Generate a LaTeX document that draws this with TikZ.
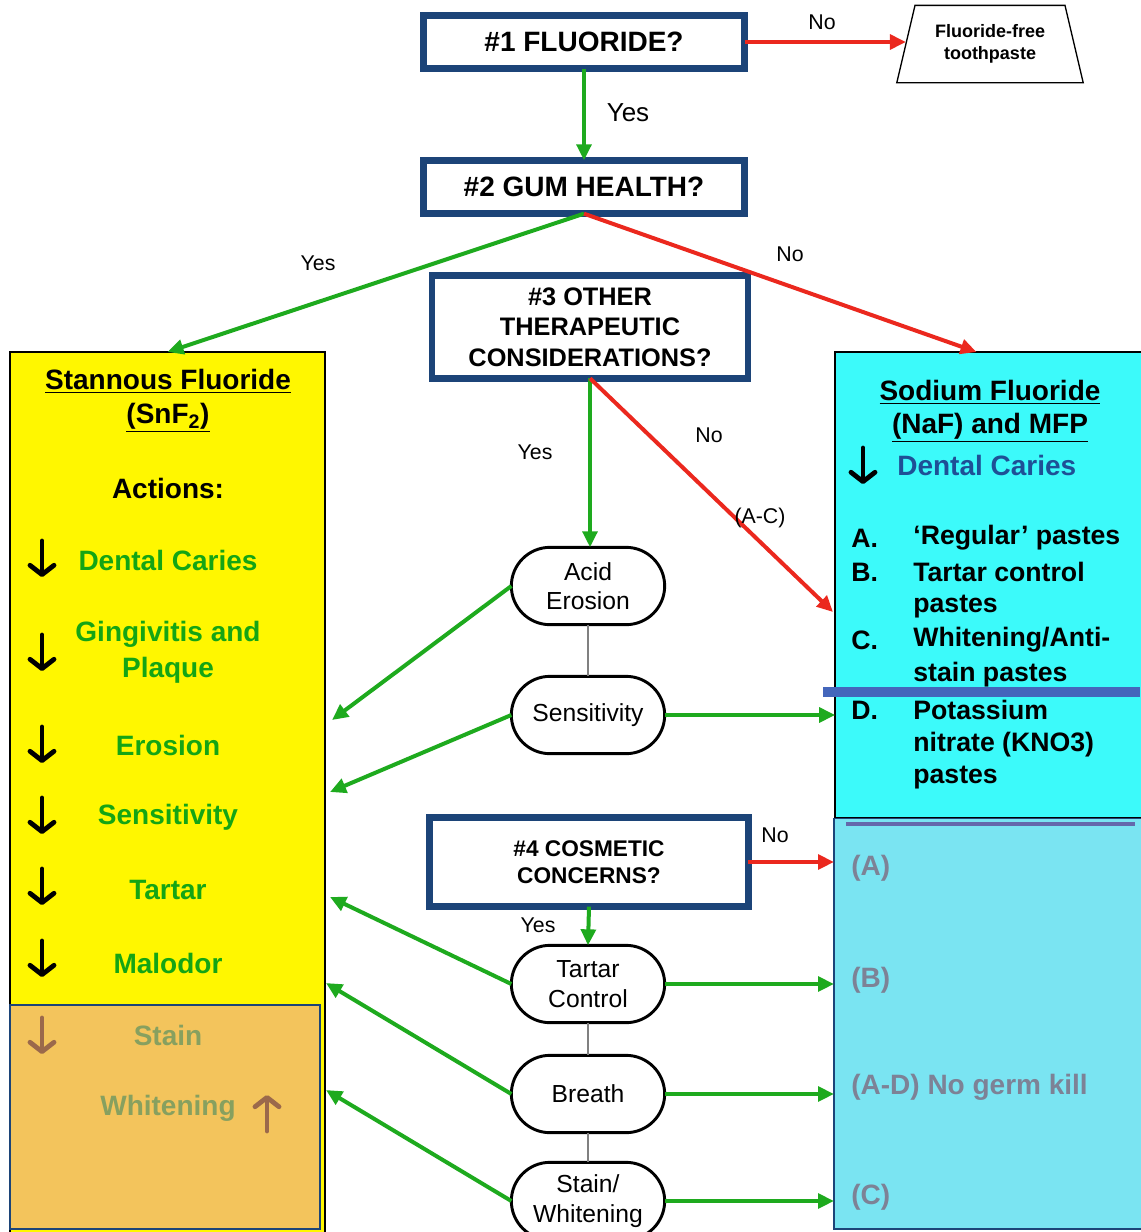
\documentclass[tikz,border=0pt]{standalone}
\usepackage{fontspec}
\setmainfont{Liberation Sans}
\usetikzlibrary{
    arrows.meta,
    positioning,
    shapes.geometric,
    shapes.misc
}
\definecolor{navy}{RGB}{28,68,120}
\definecolor{okgreen}{RGB}{30,170,30}
\definecolor{nored}{RGB}{235,40,30}
\definecolor{snfyellow}{RGB}{255,247,0}
\definecolor{snforange}{RGB}{243,196,92}
\definecolor{nafcyan}{RGB}{60,250,250}
\definecolor{naflight}{RGB}{122,228,242}
\definecolor{itemgreen}{RGB}{20,165,20}
\definecolor{fadegreen}{RGB}{135,160,95}
\definecolor{brownarr}{RGB}{155,105,75}
\definecolor{cariesblue}{RGB}{30,80,150}
\definecolor{fadegrey}{RGB}{125,130,150}
\definecolor{barblue}{RGB}{68,102,187}
\tikzset{
    every picture/.style = {
        x = 0.75pt,
        y = -0.75pt,
        > = {Triangle[length = 12pt, width = 11pt]}
    },
    every node/.style = {
        inner sep = 1pt,
        outer sep = 0pt,
        align = center
    },
    question/.style = {
        draw = navy,
        line width = 5pt,
        fill = white,
        font = \bfseries\fontsize{21}{25}\selectfont,
        minimum width = 241pt,
        minimum height = 40pt
    },
    pill/.style = {
        rounded rectangle,
        draw,
        line width = 2.2pt,
        fill = white,
        minimum width = 117pt,
        minimum height = 58pt,
        font = \fontsize{18.5}{22}\selectfont
    },
    yesline/.style = {->, okgreen, line width = 3pt},
    noline/.style = {->, nored, line width = 3pt},
    lbl/.style = {font = \fontsize{16}{18}\selectfont},
    link/.style = {gray, line width = 0.8pt},
    item/.style = {font = \bfseries\fontsize{21}{25}\selectfont, itemgreen},
    listtxt/.style = {anchor = west, font = \bfseries\fontsize{20}{24}\selectfont},
    greytxt/.style = {anchor = west, fadegrey, font = \bfseries\fontsize{21}{25}\selectfont},
    dnarrow/.style = {line width = 3.6pt, line cap = round, -{Straight Barb[length = 7pt, width = 18pt, round]}}
}

\begin{document}
\begin{tikzpicture}
    \useasboundingbox (0, 0) rectangle (1140, 1232);

    % product boxes
    \node[draw, line width = 1.2pt, fill = snfyellow, minimum width = 236pt, minimum height = 666pt] (snf) at (167.5, 796) {};
    \node[draw = navy, line width = 1pt, fill = snforange, minimum width = 232.5pt, minimum height = 168pt] (stain) at (165, 1117) {};
    \node[draw, line width = 1.5pt, fill = nafcyan, minimum width = 236pt, minimum height = 349.5pt] (naf) at (992.5, 585) {};
    \node[draw = navy, line width = 1pt, fill = naflight, minimum width = 237pt, minimum height = 308pt] (nafx) at (992, 1023.5) {};
    \draw[line width = 3pt, fadegrey!80!blue] (846, 824) -- (1135, 824);

    % questions
    \node[question] (fluoride) at (584, 42) {\#1 FLUORIDE?};
    \node[question] (gum) at (584, 187) {\#2 GUM HEALTH?};
    \node[question, minimum width = 237pt, minimum height = 77pt, font = \bfseries\fontsize{19}{23}\selectfont] (other) at (590, 327) {\#3 OTHER\\THERAPEUTIC\\CONSIDERATIONS?};
    \node[question, minimum width = 239pt, minimum height = 67pt, font = \bfseries\fontsize{17}{20}\selectfont] (cosmetic) at (589, 862) {\#4 COSMETIC\\CONCERNS?};
    \node[trapezium, trapezium stretches = true, trapezium left angle = 72, trapezium right angle = 72, draw, line width = 1pt, minimum width = 140pt, minimum height = 58pt, font = \bfseries\fontsize{13.5}{17}\selectfont] (free) at (990, 44) {Fluoride-free\\toothpaste};

    % concerns
    \node[pill] (acid) at (588, 586) {Acid\\Erosion};
    \node[pill] (sens) at (588, 715) {Sensitivity};
    \node[pill] (tartar) at (588, 984) {Tartar\\Control};
    \node[pill] (breath) at (588, 1094) {Breath};
    \node[pill] (whiten) at (588, 1201) {Stain/\\Whitening};
    \draw[link] (acid.south) -- (sens.north);
    \draw[link] (tartar.south) -- (breath.north);
    \draw[link] (breath.south) -- (whiten.north);

    % stannous fluoride text
    \node[font = \bfseries\fontsize{21}{25}\selectfont] at (168, 381) {\underline{Stannous Fluoride}};
    \node[font = \bfseries\fontsize{21}{25}\selectfont] at (168, 418) {\underline{(SnF\textsubscript{2})}};
    \node[font = \bfseries\fontsize{21}{25}\selectfont] at (168, 488) {Actions:};
    \node[item] at (168, 560) {Dental Caries};
    \node[item, font = \bfseries\fontsize{21}{27}\selectfont] at (168, 652) {Gingivitis and\\Plaque};
    \node[item] at (168, 745) {Erosion};
    \node[item] at (168, 817) {Sensitivity};
    \node[item] at (168, 890) {Tartar};
    \node[item] at (168, 963) {Malodor};
    \node[item, fadegreen] at (168, 1035) {Stain};
    \node[item, fadegreen] at (168, 1108) {Whitening};
    \draw[dnarrow] (42, 541) -- (42, 577);
    \draw[dnarrow] (42, 635) -- (42, 671);
    \draw[dnarrow] (42, 727) -- (42, 763);
    \draw[dnarrow] (42, 798) -- (42, 834);
    \draw[dnarrow] (42, 869) -- (42, 905);
    \draw[dnarrow] (42, 941) -- (42, 977);
    \draw[dnarrow, brownarr] (42, 1018) -- (42, 1054);
    \draw[dnarrow, brownarr] (267, 1131) -- (267, 1095);

    % sodium fluoride text
    \node[font = \bfseries\fontsize{21}{25}\selectfont] at (990, 392) {\underline{Sodium Fluoride}};
    \node[font = \bfseries\fontsize{21}{25}\selectfont] at (990, 428) {\underline{(NaF) and MFP}};
    \draw[dnarrow] (863, 448) -- (863, 484);
    \node[anchor = west, cariesblue, font = \bfseries\fontsize{21}{25}\selectfont] at (896, 465) {Dental Caries};
    \node[listtxt] at (850, 538) {A.};
    \node[listtxt] at (912, 538) {`Regular' pastes};
    \node[listtxt] at (850, 572) {B.};
    \node[listtxt] at (912, 572) {Tartar control};
    \node[listtxt] at (912, 607) {pastes};
    \node[listtxt] at (850, 640) {C.};
    \node[listtxt] at (912, 640) {Whitening/Anti-};
    \node[listtxt] at (912, 675) {stain pastes};
    \node[listtxt] at (850, 710) {D.};
    \node[listtxt] at (912, 710) {Potassium};
    \node[listtxt] at (912, 745) {nitrate (KNO3)};
    \node[listtxt] at (912, 778) {pastes};
    \draw[line width = 8pt, barblue] (823, 692) -- (1140, 692);
    \node[greytxt] at (850, 868) {(A)};
    \node[greytxt] at (850, 980) {(B)};
    \node[greytxt] at (850, 1087) {(A-D) No germ kill};
    \node[greytxt] at (850, 1197) {(C)};

    % arrow ends on the product boxes
    \coordinate (acin) at (833, 612);
    \coordinate (snfacid) at (332, 720);
    \coordinate (snfsens) at (330, 792);
    \coordinate (snftartar) at (330, 897);
    \coordinate (snfbreath) at (326, 983);
    \coordinate (snfwhiten) at (326, 1090);

    % connectors
    \draw[noline] (fluoride.east) -- (fluoride.east -| free.west);
    \draw[yesline] (fluoride.south) -- (gum.north);
    \draw[yesline] (gum.south) -- (snf.north);
    \draw[noline] (gum.south) -- ([xshift = -12pt]naf.north);
    \draw[yesline] (other.south) -- (other.south |- acid.north);
    \draw[noline] (other.south) -- (acin);
    \draw[yesline] (acid.west) -- (snfacid);
    \draw[yesline] (sens.west) -- (snfsens);
    \draw[yesline] (sens.east) -- (sens.east -| naf.west);
    \draw[noline] (cosmetic.east) -- (cosmetic.east -| nafx.west);
    \draw[yesline] (cosmetic.south) -- (tartar.north);
    \draw[yesline] (tartar.west) -- (snftartar);
    \draw[yesline] (breath.west) -- (snfbreath);
    \draw[yesline] (whiten.west) -- (snfwhiten);
    \draw[yesline] (tartar.east) -- (tartar.east -| nafx.west);
    \draw[yesline] (breath.east) -- (breath.east -| nafx.west);
    \draw[yesline] (whiten.east) -- (whiten.east -| nafx.west);

    % labels
    \node[lbl] at (822, 22) {No};
    \node[font = \fontsize{19.5}{22}\selectfont] at (628, 113) {Yes};
    \node[lbl] at (318, 263) {Yes};
    \node[lbl] at (790, 254) {No};
    \node[lbl] at (535, 452) {Yes};
    \node[lbl] at (709, 435) {No};
    \node[lbl] at (760, 518) {(A-C)};
    \node[lbl] at (775, 835) {No};
    \node[lbl] at (538, 925) {Yes};
\end{tikzpicture}
\end{document}
